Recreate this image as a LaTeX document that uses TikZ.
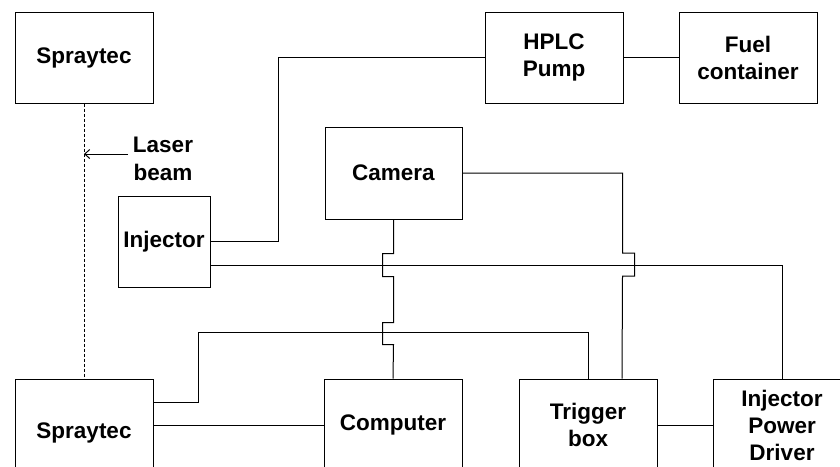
\documentclass[tikz,border=0pt]{standalone}
\usepackage{fontspec}
\setmainfont{Liberation Sans}
\usetikzlibrary{arrows.meta}

\tikzset{
  blk/.style={draw, line width=1pt, align=center, inner sep=0pt, font=\bfseries\fontsize{22.5}{27}\selectfont},
  wire/.style={line width=1pt},
  beam/.style={line width=1pt, dash pattern=on 3pt off 2pt}
}

\begin{document}
\begin{tikzpicture}[x=1pt, y=-1pt]
\useasboundingbox (0,0) rectangle (840,466);
\clip (0,0) rectangle (840,466);

\node[blk, minimum width=138pt, minimum height=91pt] at (84,57.5) (spray1) {Spraytec};
\node[blk, minimum width=138pt, minimum height=91pt] at (554,57.5) (hplc) {HPLC\\Pump};
\node[blk, minimum width=138pt, minimum height=91pt] at (748,57.5) (fuel) {Fuel\\container};
\node[blk, minimum width=137pt, minimum height=92pt] at (393.5,173) (cam) {Camera};
\node[blk, minimum width=92pt, minimum height=91pt] at (164,241.5) (inj) {Injector};
\node[blk, minimum width=138pt, minimum height=108pt] at (84,433) (spray2) {Spraytec};
\node[blk, minimum width=138pt, minimum height=92pt] at (393,425) (comp) {Computer};
\node[blk, minimum width=138pt, minimum height=92pt] at (588,425) (trig) {Trigger\\box};
\node[blk, minimum width=138pt, minimum height=92pt] at (782,425) (ipd) {Injector\\Power\\Driver};

\node[align=center, inner sep=0pt, font=\bfseries\fontsize{22.5}{28}\selectfont] at (163,159) (laser) {Laser\\beam};
\coordinate (hit) at (84,154);

\draw[beam] (spray1.south) -- (spray2.north);
\draw[wire, -{Straight Barb[length=5pt, width=9pt]}] (128,154) -- (hit);

\draw[wire] (hplc.east) -- (fuel.west);
\draw[wire] (inj.east) -- ++(68,0) |- (hplc.west);
\draw[wire] ([yshift=-23.5pt]inj.east) -| (ipd.north);
\draw[wire] (cam.south) -- ++(0,34) -- ++(-11,0) -- ++(0,23) -- ++(11,0) -- ++(0,46) -- ++(-11,0) -- ++(0,22) -- ++(11,0) -- (comp.north);
\draw[wire] (cam.east) -- ++(160,0) -- ++(0,80) -- ++(12,0) -- ++(0,23) -- ++(-12,0) -- ([xshift=34pt]trig.north);
\draw[wire] ([yshift=-24pt]spray2.north east) -- ++(45,0) -- ++(0,-70) -| (trig.north);
\draw[wire] (comp.west) -- (comp.west -| spray2.east);
\draw[wire] (trig.east) -- (ipd.west);
\end{tikzpicture}
\end{document}
